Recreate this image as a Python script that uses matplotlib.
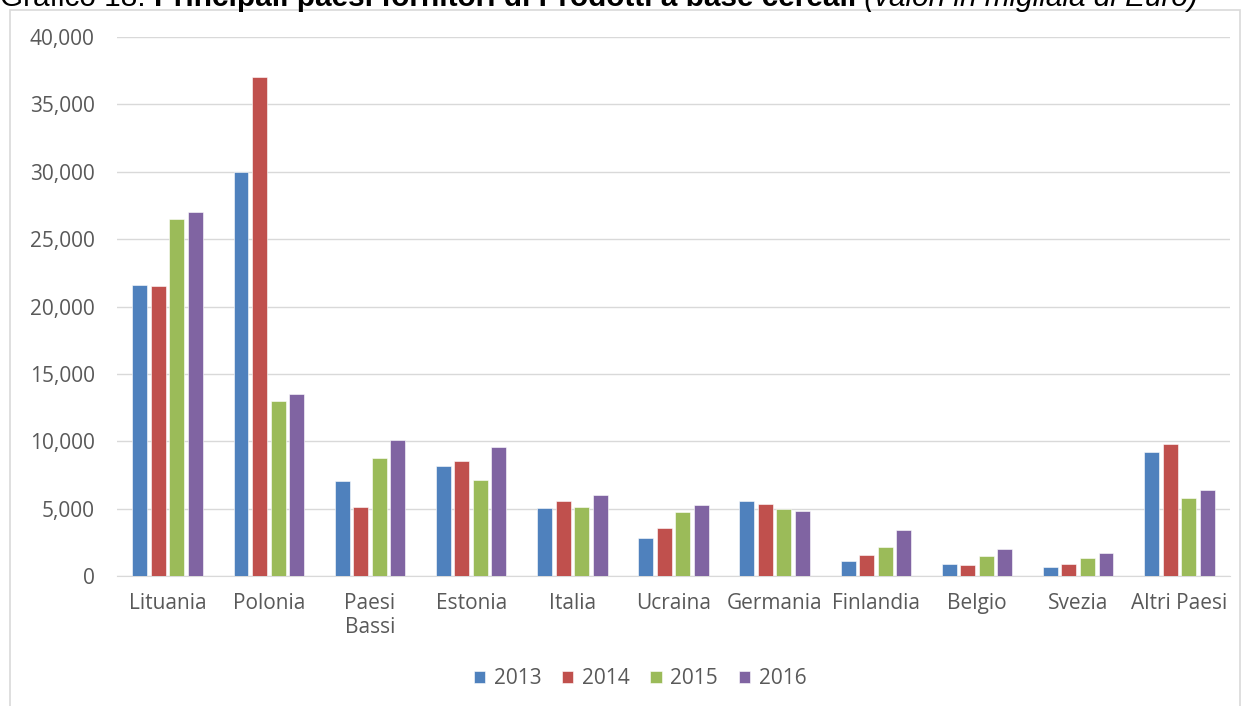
import numpy as np
import matplotlib.pyplot as plt
from matplotlib.patches import Rectangle
from matplotlib.ticker import FuncFormatter

paesi = ['Lituania', 'Polonia', 'Paesi\nBassi', 'Estonia', 'Italia', 'Ucraina',
         'Germania', 'Finlandia', 'Belgio', 'Svezia', 'Altri Paesi']
anni = ['2013', '2014', '2015', '2016']
v2013 = [21600, 30000, 7080, 8200, 5010, 2790, 5600, 1140, 860, 640, 9230]
v2014 = [21500, 37000, 5100, 8570, 5530, 3560, 5360, 1580, 790, 890, 9830]
v2015 = [26500, 13000, 8780, 7090, 5110, 4770, 4940, 2170, 1480, 1310, 5800]
v2016 = [27000, 13500, 10100, 9580, 5980, 5280, 4840, 3380, 2000, 1680, 6400]
colori = ['#4F81BD', '#C0504D', '#9BBB59', '#8064A2']

plt.rcParams['font.family'] = ['Open Sans', 'DejaVu Sans']
grigio = '#595959'

fig = plt.figure(figsize=(12.46, 7.06), dpi=100)
W, H = 1246, 706
ax = fig.add_axes([117 / W, 1 - 576 / H, (1230 - 117) / W, (576 - 37) / H])

# riquadro del grafico
fig.patches.append(Rectangle((10 / W, -0.1), 1230 / W, 1.1 - 10 / H,
                             transform=fig.transFigure, fill=False,
                             edgecolor='#d9d9d9', linewidth=1.2))

x = np.arange(len(paesi))
passo = 0.183
for k, (serie, c) in enumerate(zip([v2013, v2014, v2015, v2016], colori)):
    ax.bar(x + (k - 1.5) * passo, serie, width=0.148, color=c,
           edgecolor='white', linewidth=0.4, label=anni[k], zorder=3)

ax.set_xlim(-0.5, len(paesi) - 0.5)
ax.set_ylim(0, 40000)
ax.set_yticks(np.arange(0, 40001, 5000))
ax.yaxis.set_major_formatter(FuncFormatter(lambda v, p: f'{int(v):,}'))
ax.grid(axis='y', color='#d9d9d9', linewidth=1, zorder=0)
ax.set_xticks(x)
ax.set_xticklabels(paesi, linespacing=1.2)
ax.tick_params(axis='both', length=0, labelsize=15, colors=grigio)
ax.tick_params(axis='y', pad=16)
ax.tick_params(axis='x', pad=12)
for s in ['top', 'right', 'left']:
    ax.spines[s].set_visible(False)
ax.spines['bottom'].set_color('#d9d9d9')

fig.legend(loc='center', bbox_to_anchor=(640 / W, 1 - 679 / H), ncol=4,
           frameon=False, fontsize=15, labelcolor=grigio, handlelength=0.55,
           handleheight=0.55, handletextpad=0.4, columnspacing=1.0)

# titolo, tagliato in alto
r = fig.canvas.get_renderer()
y_t = 1 - 6 / H
parti = [('Grafico 18: ', 'normal', 'normal'),
         ('Principali paesi fornitori di Prodotti a base cereali', 'bold', 'normal'),
         (' (valori in migliaia di Euro)', 'normal', 'italic')]
x_t = 0
for testo, peso, stile in parti:
    t = fig.text(x_t / W, y_t, testo, fontsize=21.4, fontweight=peso, fontstyle=stile,
                 family='Liberation Sans', va='baseline', ha='left', color='black')
    x_t += t.get_window_extent(r).width

fig.savefig('out.png', dpi=100)
